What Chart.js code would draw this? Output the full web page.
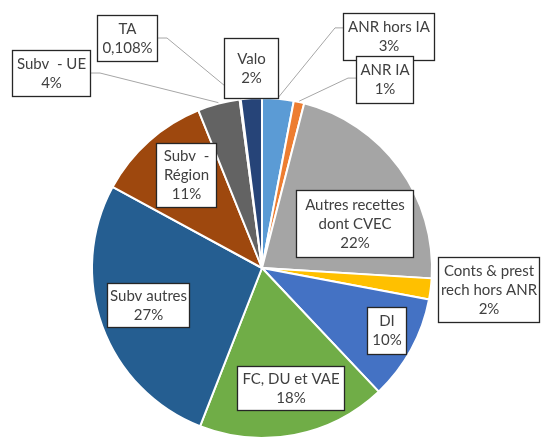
<!DOCTYPE html>
<html>
<head>
<meta charset="utf-8">
<script src="https://cdn.jsdelivr.net/npm/chart.js@4/dist/chart.umd.min.js"></script>
<style>
  html, body { margin: 0; padding: 0; background: #fff; }
  #wrap { width: 541px; height: 444px; position: relative; }
</style>
</head>
<body>
<div id="wrap"><canvas id="pie"></canvas></div>
<script>
// --- data ---
const categories = [
  'ANR hors IA', 'ANR IA', 'Autres recettes dont CVEC', 'Conts & prest rech hors ANR',
  'DI', 'FC, DU et VAE', 'Subv autres', 'Subv - Région', 'Subv - UE', 'TA', 'Valo'
];
const shares = [3, 1, 22, 2, 10, 18, 27, 11, 4, 0.108, 2];
const sliceColors = [
  '#5B9BD5', '#ED7D31', '#A5A5A5', '#FFC000', '#4472C4', '#70AD47',
  '#255E91', '#9E480E', '#636363', '#997300', '#264478'
];

// --- label layout (boxes as left, top, right, bottom) ---
const labelLines = [
  ['ANR hors IA'], ['ANR IA'], ['Autres recettes', 'dont CVEC'], ['Conts & prest', 'rech hors ANR'],
  ['DI'], ['FC, DU et VAE'], ['Subv autres'], ['Subv  -', 'Région'], ['Subv  - UE'], ['TA'], ['Valo']
];
const labelBoxes = [
  [343, 13, 435, 61], [356, 56, 414, 104], [296, 190, 414, 258], [438, 257, 540, 323],
  [367, 307, 407, 355], [237, 366, 345, 411], [107, 283, 190, 328], [156, 143, 217, 208],
  [12, 50, 91, 97], [97, 15, 158, 62], [224, 38, 279, 99]
];
// leader line: side of the box it leaves from, and height as fraction of box
const leaders = [
  { side: 'left', fy: 0.31 }, { side: 'left', fy: 0.46 }, null, null,
  null, null, null, null,
  { side: 'right', fy: 0.49 }, { side: 'right', fy: 0.49 }, null
];

function fmtPct(v) {
  return String(v).replace('.', ',') + '%';
}

const boxLabels = {
  id: 'boxLabels',
  afterDatasetsDraw(chart) {
    const ctx = chart.ctx;
    const arcs = chart.getDatasetMeta(0).data;
    ctx.save();

    // leader lines first, boxes go on top of them
    ctx.strokeStyle = '#A6A6A6';
    ctx.lineWidth = 1;
    arcs.forEach((arc, i) => {
      const ld = leaders[i];
      if (!ld) return;
      const [l, t, r, b] = labelBoxes[i];
      const mid = (arc.startAngle + arc.endAngle) / 2;
      const ex = arc.x + Math.cos(mid) * (arc.outerRadius + 1);
      const ey = arc.y + Math.sin(mid) * (arc.outerRadius + 1);
      const by = t + (b - t) * ld.fy;
      const bx = ld.side === 'left' ? l : r;
      const sx = ld.side === 'left' ? l - 8 : r + 9;
      ctx.beginPath();
      ctx.moveTo(bx, by);
      ctx.lineTo(sx, by);
      ctx.lineTo(ex, ey);
      ctx.stroke();
    });

    ctx.font = '15px Lato, "Open Sans", sans-serif';
    ctx.textAlign = 'center';
    ctx.textBaseline = 'middle';
    arcs.forEach((arc, i) => {
      const [l, t, r, b] = labelBoxes[i];
      ctx.fillStyle = '#fff';
      ctx.fillRect(l, t, r - l, b - t);
      ctx.strokeStyle = '#262626';
      ctx.lineWidth = 1.3;
      ctx.strokeRect(l + 0.5, t + 0.5, r - l - 1, b - t - 1);

      const lines = labelLines[i].concat([fmtPct(shares[i])]);
      const lh = 19;
      const cx = (l + r) / 2;
      const cy = (t + b) / 2;
      ctx.fillStyle = '#404040';
      lines.forEach((s, k) => {
        ctx.fillText(s, cx, cy + (k - (lines.length - 1) / 2) * lh);
      });
    });
    ctx.restore();
  }
};

new Chart(document.getElementById('pie'), {
  type: 'pie',
  data: {
    labels: categories,
    datasets: [{
      data: shares,
      backgroundColor: sliceColors,
      borderColor: '#fff',
      borderWidth: 2
    }]
  },
  options: {
    responsive: true,
    maintainAspectRatio: false,
    animation: false,
    layout: { padding: { left: 91, right: 108, top: 97, bottom: 5 } },
    plugins: { legend: { display: false }, tooltip: { enabled: false } }
  },
  plugins: [boxLabels]
});
</script>
</body>
</html>
